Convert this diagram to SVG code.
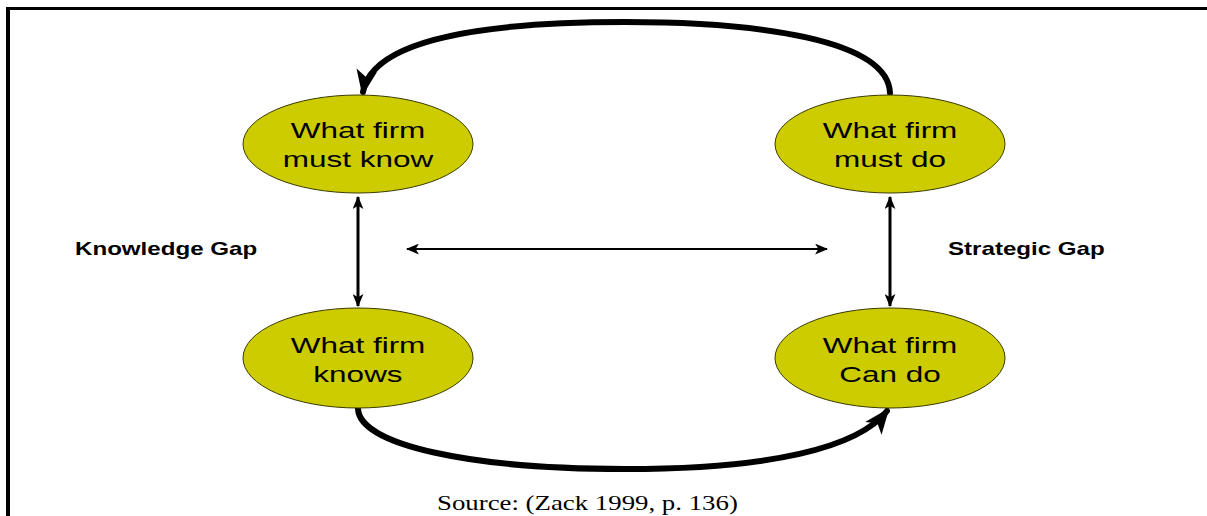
<svg xmlns="http://www.w3.org/2000/svg" width="1207" height="516" viewBox="0 0 1207 516">
  <style>
    .node ellipse { fill: #cccc00; stroke: #3a3a00; stroke-width: 1; }
    .lbl { font-family: "Liberation Sans", Arial, sans-serif; font-size: 22.5px; fill: #000; text-anchor: middle; }
    .gap { font-family: "Liberation Sans", Arial, sans-serif; font-size: 18px; font-weight: bold; fill: #000; }
    .src { font-family: "Liberation Serif", "Times New Roman", serif; font-size: 22px; fill: #000; }
    .thick { fill: none; stroke: #000; stroke-width: 6; stroke-linecap: round; }
    .thin { fill: none; stroke: #000; stroke-width: 3; }
    .hair { fill: none; stroke: #000; stroke-width: 2; }
  </style>
  <defs>
    <marker id="bigHead" viewBox="0 0 20 16" refX="17" refY="8" markerWidth="26" markerHeight="21" markerUnits="userSpaceOnUse" orient="auto">
      <path d="M0,0 L20,8 L0,16 L5,8 Z" fill="#000"/>
    </marker>
    <marker id="smallHead" viewBox="0 0 12 10" refX="11" refY="5" markerWidth="13" markerHeight="11" markerUnits="userSpaceOnUse" orient="auto-start-reverse">
      <path d="M0,0 L12,5 L0,10 L3,5 Z" fill="#000"/>
    </marker>
  </defs>

  <rect width="1207" height="516" fill="#fff"/>

  <!-- frame -->
  <g id="frame" fill="#000">
    <rect x="6" y="7" width="1201" height="3"/>
    <rect x="6" y="7" width="4" height="509"/>
  </g>

  <!-- connectors -->
  <g id="connectors">
    <path class="thick" d="M890,93 C888,40 760,22 625,22 C480,22 372,40 363,92" marker-end="url(#bigHead)"/>
    <path class="thick" d="M358,409 C360,445 470,469 625,469 C770,469 858,448 887,411" marker-end="url(#bigHead)"/>
    <line class="thin" x1="358" y1="197" x2="358" y2="306" marker-start="url(#smallHead)" marker-end="url(#smallHead)"/>
    <line class="thin" x1="890" y1="197" x2="890" y2="306" marker-start="url(#smallHead)" marker-end="url(#smallHead)"/>
    <line class="hair" x1="407" y1="249" x2="827" y2="249" marker-start="url(#smallHead)" marker-end="url(#smallHead)"/>
  </g>

  <!-- nodes -->
  <g id="must-know" class="node">
    <ellipse cx="358" cy="144" rx="115" ry="49"/>
    <g transform="translate(358,0) scale(1.4,1)">
      <text class="lbl" x="0" y="138">What firm</text>
      <text class="lbl" x="0" y="167">must know</text>
    </g>
  </g>
  <g id="must-do" class="node">
    <ellipse cx="890" cy="144" rx="115" ry="49"/>
    <g transform="translate(890,0) scale(1.4,1)">
      <text class="lbl" x="0" y="138">What firm</text>
      <text class="lbl" x="0" y="167">must do</text>
    </g>
  </g>
  <g id="knows" class="node">
    <ellipse cx="358" cy="358" rx="115" ry="50"/>
    <g transform="translate(358,0) scale(1.4,1)">
      <text class="lbl" x="0" y="353">What firm</text>
      <text class="lbl" x="0" y="382">knows</text>
    </g>
  </g>
  <g id="can-do" class="node">
    <ellipse cx="890" cy="358" rx="115" ry="50"/>
    <g transform="translate(890,0) scale(1.4,1)">
      <text class="lbl" x="0" y="353">What firm</text>
      <text class="lbl" x="0" y="382">Can do</text>
    </g>
  </g>

  <!-- gap labels -->
  <g id="knowledge-gap">
    <text class="gap" transform="translate(75,255) scale(1.34,1)">Knowledge Gap</text>
  </g>
  <g id="strategic-gap">
    <text class="gap" transform="translate(948,255) scale(1.34,1)">Strategic Gap</text>
  </g>

  <!-- citation -->
  <text class="src" transform="translate(437,510) scale(1.22,1)">Source: (Zack 1999, p. 136)</text>
</svg>
